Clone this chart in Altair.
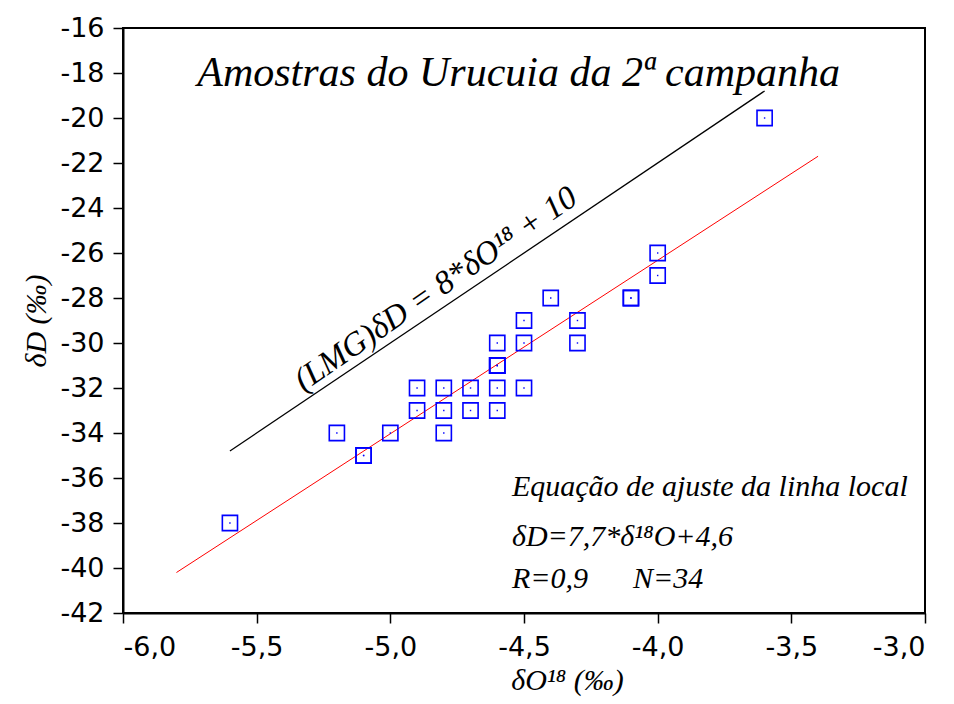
import altair as alt
import pandas as pd

# sample points (δ18O, δD)
d18o = [-5.6, -5.2, -5.1, -5.1, -5.0, -4.9, -4.9, -4.8, -4.8, -4.8, -4.7, -4.7,
        -4.6, -4.6, -4.6, -4.6, -4.6, -4.6, -4.5, -4.5, -4.5, -4.4, -4.3, -4.3,
        -4.1, -4.1, -4.0, -4.0, -3.6]
dD = [-38, -34, -35, -35, -34, -32, -33, -32, -33, -34, -32, -33,
      -30, -31, -31, -31, -32, -33, -29, -30, -32, -28, -29, -30,
      -28, -28, -26, -27, -20]

# local fit line end points
fit_x = [-5.8, -3.4]
fit_y = [-40.2, -21.7]

# global meteoric water line end points
gmwl_x = [-5.6, -3.6]
gmwl_y = [-34.8, -18.8]

x_ticks = [-6.0, -5.5, -5.0, -4.5, -4.0, -3.5, -3.0]
y_ticks = list(range(-42, -15, 2))

title_text = "Amostras do Urucuia da 2ª campanha"
lmg_text = "(LMG)δD = 8*δO¹⁸ + 10"
eq_lines = ["Equação de ajuste da linha local", "δD=7,7*δ¹⁸O+4,6",
            "R=0,9\u00a0\u00a0\u00a0\u00a0\u00a0\u00a0N=34"]
eq_y = [-36.4, -38.6, -40.5]

pts = pd.DataFrame({"x": d18o, "y": dD})
fit = pd.DataFrame({"x": fit_x, "y": fit_y})
gm = pd.DataFrame({"x": gmwl_x, "y": gmwl_y})

xs = alt.Scale(domain=[-6.0, -3.0], nice=False, zero=False)
ys = alt.Scale(domain=[-42, -16], nice=False, zero=False)

X = alt.X("x:Q", scale=xs, axis=alt.Axis(
    values=x_ticks, format=".1f",
    labelExpr="replace(replace(datum.label, '.', ','), '\u2212', '-')",
    labelPadding=11,
    title="δO¹⁸ (‰)", titleX=444, titlePadding=5))
Y = alt.Y("y:Q", scale=ys, axis=alt.Axis(
    values=y_ticks, labelExpr="replace(datum.label, '\u2212', '-')",
    labelPadding=9,
    title="δD (‰)", titlePadding=8))

base_pts = alt.Chart(pts)
squares = base_pts.mark_point(shape="square", filled=False, color="#0000ff",
                              size=230, strokeWidth=1.6, opacity=1).encode(x=X, y=Y)
dots = base_pts.mark_point(shape="square", filled=True, color="#0000ff", size=2,
                           opacity=1).encode(x="x:Q", y="y:Q")

fit_line = alt.Chart(fit).mark_line(color="#ff0000", strokeWidth=1).encode(x="x:Q", y="y:Q")
gm_line = alt.Chart(gm).mark_line(color="black", strokeWidth=1.3).encode(x="x:Q", y="y:Q")

title = alt.Chart(pd.DataFrame({"x": [-4.52], "y": [-18.0], "t": [title_text]})).mark_text(
    font="Liberation Serif", fontStyle="italic", fontSize=42, color="black"
).encode(x="x:Q", y="y:Q", text="t:N")

lmg = alt.Chart(pd.DataFrame({"x": [-4.83], "y": [-27.6], "t": [lmg_text]})).mark_text(
    font="Liberation Serif", fontStyle="italic", fontSize=33, color="black", angle=325.5
).encode(x="x:Q", y="y:Q", text="t:N")

eq = alt.Chart(pd.DataFrame({"x": [-4.545] * 3, "y": eq_y, "t": eq_lines})).mark_text(
    font="Liberation Serif", fontStyle="italic", fontSize=30, color="black", align="left"
).encode(x="x:Q", y="y:Q", text="t:N")

chart = alt.layer(gm_line, fit_line, squares, dots, title, lmg, eq).properties(
    width=802, height=585,
    autosize=alt.AutoSizeParams(type="none"),
    padding={"left": 115, "top": 20, "right": 21, "bottom": 90},
    background="white",
).configure_view(stroke="black", strokeWidth=2).configure_axis(
    grid=False, domainColor="black", domainWidth=2, tickColor="black", tickWidth=1.5,
    tickSize=10, labelFont="DejaVu Sans", labelFontSize=27, labelColor="black",
    titleFont="Liberation Serif", titleFontStyle="italic",
    titleFontWeight="normal", titleFontSize=30, titleColor="black"
)

chart.save("out.html", embed_options={"renderer": "svg", "actions": False})
